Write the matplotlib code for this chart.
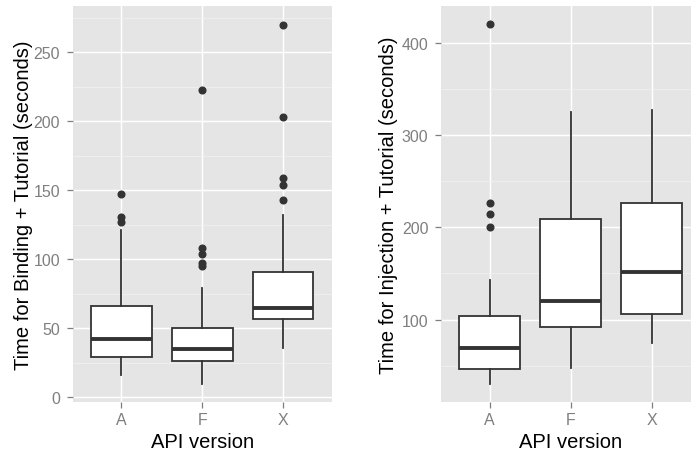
import matplotlib
matplotlib.use("Agg")
import matplotlib.pyplot as plt
from matplotlib.ticker import MultipleLocator

plt.rcParams['font.family'] = ['Liberation Sans', 'DejaVu Sans']

versions = ["A", "F", "X"]

# binding + tutorial (seconds)
bind_whislo = [16, 10, 36]
bind_q1 = [29, 26, 57]
bind_med = [42, 35, 65]
bind_q3 = [66, 50, 91]
bind_whishi = [121, 79, 132]
bind_fliers = [
    [127, 131, 147],
    [95, 97, 104, 108, 223],
    [143, 154, 159, 203, 270],
]

# injection + tutorial (seconds)
inj_whislo = [30, 47, 75]
inj_q1 = [46, 92, 106]
inj_med = [69, 120, 152]
inj_q3 = [104, 209, 226]
inj_whishi = [143, 325, 327]
inj_fliers = [
    [200, 215, 226, 420],
    [],
    [],
]

bind_ylabel = "Time for Binding + Tutorial (seconds)"
inj_ylabel = "Time for Injection + Tutorial (seconds)"
xlabel = "API version"


def make_stats(lo, q1, med, q3, hi, fl):
    out = []
    for i in range(len(lo)):
        out.append(dict(whislo=lo[i], q1=q1[i], med=med[i], q3=q3[i],
                        whishi=hi[i], fliers=fl[i], label=versions[i]))
    return out


def draw(ax, stats, ylim, major, minor, ylabel, ylab_x):
    ax.set_facecolor("#E5E5E5")
    for s in ax.spines.values():
        s.set_visible(False)
    ax.set_axisbelow(True)
    ax.bxp(stats, positions=[1, 2, 3], widths=0.75, showcaps=False,
           patch_artist=True,
           boxprops=dict(facecolor="white", edgecolor="#333333", linewidth=1.3),
           whiskerprops=dict(color="#333333", linewidth=1.3),
           medianprops=dict(color="#333333", linewidth=2.8, solid_capstyle="butt"),
           flierprops=dict(marker="o", markersize=4.8, markerfacecolor="#333333",
                           markeredgecolor="#333333", linestyle="none"))
    ax.set_xlim(0.4, 3.6)
    ax.set_ylim(*ylim)
    ax.yaxis.set_major_locator(MultipleLocator(major))
    ax.yaxis.set_minor_locator(MultipleLocator(minor))
    ax.set_xticks([1, 2, 3])
    ax.set_xticklabels(versions)
    ax.grid(True, which="major", color="white", linewidth=1.07)
    ax.grid(True, which="minor", axis="y", color="#F2F2F2", linewidth=0.55)
    ax.tick_params(which="major", length=4.5, width=0.9, color="#7F7F7F",
                   labelcolor="#7F7F7F", labelsize=11.5)
    ax.tick_params(axis="y", pad=4.5)
    ax.tick_params(axis="x", pad=3)
    ax.tick_params(which="minor", length=0)
    ax.set_ylabel(ylabel, fontsize=14.5)
    ax.set_xlabel(xlabel, fontsize=14.5)
    ax.yaxis.set_label_coords(ylab_x, 0.5)
    ax.xaxis.set_label_coords(0.5, -0.075)


fig = plt.figure(figsize=(6.91, 4.52), dpi=100)
ax1 = fig.add_axes([0.1052, 0.1084, 0.3748, 0.876])
ax2 = fig.add_axes([0.6382, 0.1084, 0.3751, 0.876])

draw(ax1, make_stats(bind_whislo, bind_q1, bind_med, bind_q3, bind_whishi, bind_fliers),
     (-3.4, 283.5), 50, 25, bind_ylabel, -0.155)
draw(ax2, make_stats(inj_whislo, inj_q1, inj_med, inj_q3, inj_whishi, inj_fliers),
     (10.6, 440), 100, 50, inj_ylabel, -0.165)

fig.savefig("out.png", dpi=100)
